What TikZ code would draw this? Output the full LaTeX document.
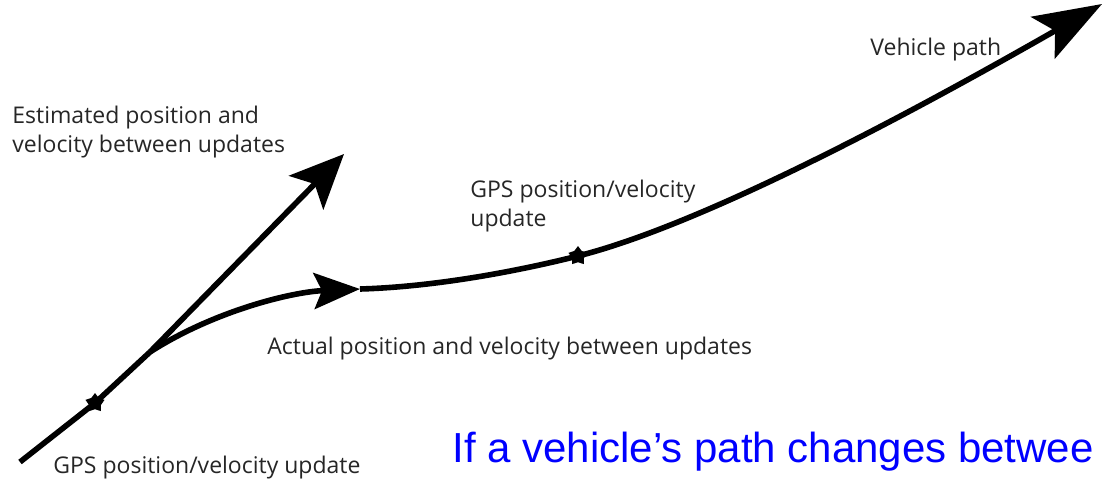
\documentclass[tikz,border=0pt]{standalone}
\usepackage{fontspec}
\setmainfont{Open Sans}
\newfontfamily\arialfont{Liberation Sans}
\usetikzlibrary{arrows.meta,shapes.geometric}

\begin{document}
\begin{tikzpicture}[x=0.5pt, y=-0.5pt,
    path line/.style={line width=2.8pt, line join=round},
    fix mark/.style={star, star points=5, star point ratio=1.6, fill=black, inner sep=0pt, minimum size=10pt},
    label text/.style={text=black!85, font=\fontsize{11.5}{14.2}\selectfont, inner sep=0pt, anchor=base west, align=left}]
    \useasboundingbox (0,0) rectangle (1103,478);
    \clip (0,0) rectangle (1103,478);

    % Points on the path
    \coordinate (start) at (20,462);
    \coordinate (fork) at (150,352);
    \coordinate (esttip) at (344,154);
    \coordinate (midtip) at (360,289);
    \coordinate (endtip) at (1102,4);
    \node[fix mark] (fixA) at (95,403) {};
    \node[fix mark] (fixB) at (578,256) {};

    % Vehicle path
    \draw[path line] (start) -- (fixA.center) -- (fork);
    \draw[path line, -{Stealth[length=23pt, width=18pt, inset=4pt]}] (fork) .. controls (212,312) and (290,292) .. (midtip);
    \draw[path line, -{Stealth[length=34pt, width=24pt, inset=7pt]}] (midtip) .. controls (430,287) and (510,273) .. (fixB.center)
        .. controls (720,220) and (960,85) .. (endtip);

    % Estimated vector
    \draw[path line, -{Stealth[length=27pt, width=24pt, inset=6pt]}] (fork) -- (esttip);

    % Labels
    \node[label text] (estlabel) at (12,152) {Estimated position and\\velocity between updates};
    \node[label text] (gpsBlabel) at (470,226) {GPS position/velocity\\update};
    \node[label text] (actlabel) at (267,354) {Actual position and velocity between updates};
    \node[label text] (gpsAlabel) at (53,473) {GPS position/velocity update};
    \node[label text] (vehlabel) at (870,55) {Vehicle path};
    \node[anchor=base west, inner sep=0pt, text=blue, font=\arialfont\fontsize{21}{25}\selectfont] (note) at (452,462) {If a vehicle’s path changes betwee};
\end{tikzpicture}
\end{document}
